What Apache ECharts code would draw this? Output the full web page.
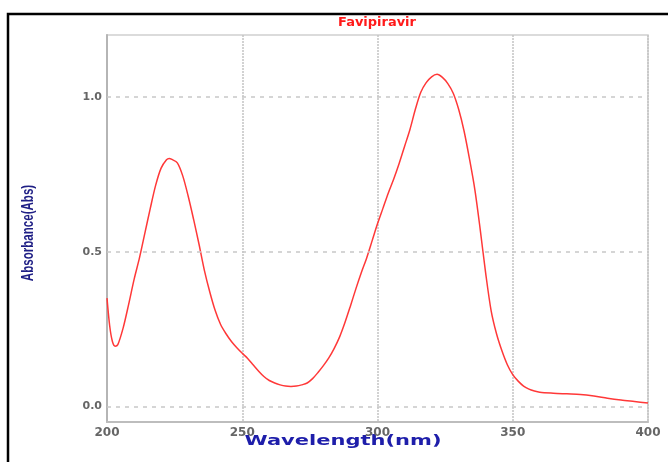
<!DOCTYPE html>
<html>
<head>
<meta charset="utf-8">
<script src="https://cdn.jsdelivr.net/npm/echarts@6/dist/echarts.min.js"></script>
<style>
    html, body { margin: 0; padding: 0; background: #fff; }
    #chart { width: 668px; height: 462px; }
</style>
</head>
<body>
<div id="chart"></div>
<script>
// spectrum
const wavelength = [200, 201, 202, 203, 204, 206, 208, 210, 212, 214, 216, 218, 220, 222, 223, 224, 226, 228, 230,
    232, 234, 236, 238, 240, 242, 244, 246, 248, 250, 252, 254, 256, 258, 260, 262, 264, 266, 268, 270,
    272, 274, 276, 278, 280, 282, 284, 286, 288, 290, 292, 294, 296, 298, 300, 302, 304, 306, 308, 310,
    312, 314, 316, 318, 320, 322, 324, 326, 328, 330, 332, 334, 336, 338, 340, 342, 344, 346, 348, 350,
    352, 354, 356, 358, 360, 365, 370, 375, 380, 385, 390, 395, 400];
const absorbance = [0.35, 0.26, 0.21, 0.195, 0.2, 0.255, 0.33, 0.41, 0.48, 0.56, 0.64, 0.715, 0.77, 0.797, 0.801, 0.798, 0.787, 0.745, 0.68,
    0.605, 0.525, 0.44, 0.37, 0.31, 0.265, 0.235, 0.21, 0.19, 0.172, 0.155, 0.135, 0.115, 0.097, 0.084, 0.076, 0.07, 0.066, 0.065, 0.066,
    0.07, 0.076, 0.09, 0.11, 0.132, 0.157, 0.188, 0.225, 0.272, 0.325, 0.38, 0.432, 0.48, 0.535, 0.59, 0.64, 0.69, 0.735, 0.785, 0.84,
    0.895, 0.96, 1.015, 1.046, 1.065, 1.073, 1.063, 1.043, 1.012, 0.96, 0.89, 0.8, 0.7, 0.57, 0.43, 0.31, 0.235, 0.18, 0.135, 0.103,
    0.082, 0.066, 0.056, 0.05, 0.046, 0.043, 0.041, 0.039, 0.034, 0.027, 0.021, 0.016, 0.011];
const yTicks = [0, 0.5, 1.0];

const chart = echarts.init(document.getElementById('chart'));

const option = {
    animation: false,
    backgroundColor: '#fff',
    grid: {
        left: 107, right: 20, top: 35, bottom: 40,
        show: true, borderColor: '#cfcfcf', borderWidth: 1.5
    },
    graphic: [
        {   // outer black frame (runs off the picture on right/bottom)
            type: 'rect', z: 0,
            shape: { x: 8, y: 14, width: 700, height: 500 },
            style: { fill: null, stroke: '#000', lineWidth: 2.5 }
        },
        {
            type: 'text', x: 377, y: 23, scaleX: 1.08,
            style: { text: 'Favipiravir', font: 'bold 12px "DejaVu Sans"', fill: '#ff1a1a', align: 'center', verticalAlign: 'middle' }
        },
        {
            type: 'text', x: 343, y: 441, scaleX: 1.5,
            style: { text: 'Wavelength(nm)', font: 'bold 14px "DejaVu Sans"', fill: '#1e1eaa', align: 'center', verticalAlign: 'middle' }
        },
        {
            type: 'text', x: 28, y: 233, rotation: Math.PI / 2, scaleX: 0.68,
            style: { text: 'Absorbance(Abs)', font: 'bold 17px "Liberation Sans"', fill: '#1f1f85', align: 'center', verticalAlign: 'middle' }
        }
    ],
    xAxis: {
        type: 'value',
        min: 200, max: 400, interval: 50,
        axisLine: { onZero: false, lineStyle: { color: '#bdbdbd', width: 2 } },
        axisTick: { show: false },
        axisLabel: { margin: 5, color: '#666', fontFamily: 'DejaVu Sans', fontWeight: 'bold', fontSize: 12 },
        splitLine: { show: true, lineStyle: { color: '#c4c4c4', width: 1.5, type: [2, 1] } }
    },
    yAxis: {
        type: 'value',
        min: -0.05, max: 1.2,
        axisLine: { show: true, lineStyle: { color: '#b5b5b5', width: 2 } },
        axisTick: { show: false },
        splitLine: { show: false },
        axisLabel: {
            customValues: yTicks, margin: 5,
            color: '#666', fontFamily: 'DejaVu Sans', fontWeight: 'bold', fontSize: 11,
            formatter: (v) => v.toFixed(1)
        }
    },
    series: [{
        type: 'line',
        data: wavelength.map((w, i) => [w, absorbance[i]]),
        showSymbol: false,
        smooth: 0.3,
        lineStyle: { color: '#ff3838', width: 1.5 },
        markLine: {
            silent: true,
            symbol: 'none',
            label: { show: false },
            lineStyle: { color: '#c8c8c8', width: 1.5, type: [4, 5] },
            data: yTicks.map((t) => ({ yAxis: t }))
        }
    }]
};

chart.setOption(option);
</script>
</body>
</html>
